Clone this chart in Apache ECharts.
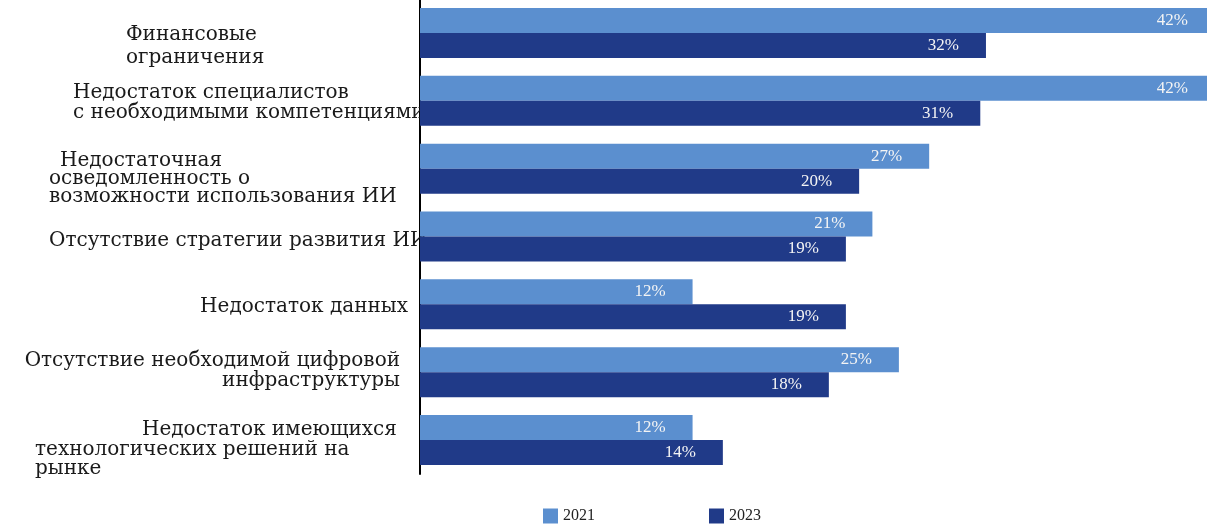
<!DOCTYPE html>
<html>
<head>
<meta charset="utf-8">
<script src="https://cdn.jsdelivr.net/npm/echarts@6/dist/echarts.min.js"></script>
<style>
html,body{margin:0;padding:0;background:#fff;}
#chart{width:1207px;height:524px;}
</style>
</head>
<body>
<div id="chart"></div>
<script>
// ---- data ----
const categories = [
  'Финансовые\nограничения',
  'Недостаток специалистов\nс необходимыми компетенциями',
  'Недостаточная\nосведомленность о\nвозможности использования ИИ',
  'Отсутствие стратегии развития ИИ',
  'Недостаток данных',
  'Отсутствие необходимой цифровой\nинфраструктуры',
  'Недостаток имеющихся\nтехнологических решений на\nрынке'
];
const seriesNames = ['2021', '2023'];
// bar lengths as drawn in the picture (axis units)
const barLen2021 = [42, 42, 26.9, 23.9, 14.4, 25.3, 14.4];
const barLen2023 = [29.9, 29.6, 23.2, 22.5, 22.5, 21.6, 16.0];
// printed label values (%)
const pct2021 = [42, 42, 27, 21, 12, 25, 12];
const pct2023 = [32, 31, 20, 19, 19, 18, 14];

// ---- label layout (styling only) ----
const ANCHOR = 408; // right edge of label block (axis x - margin)
const labelLayout = [
  { dy: 13, lh: 23, lines: [{ left: 126 }, { left: 126 }] },
  { dy: 2.5, lh: 20, lines: [{ left: 73 }, { left: 73 }] },
  { dy: 10.5, lh: 18, lines: [{ left: 60 }, { left: 49 }, { left: 49 }] },
  { dy: 4.5, lh: 20, lines: [{ left: 49 }] },
  { dy: 2, lh: 20, lines: [{ right: 408 }] },
  { dy: -1, lh: 20, lines: [{ right: 400 }, { right: 400 }] },
  { dy: 9.5, lh: 19.5, lines: [{ left: 142 }, { left: 35 }, { left: 35 }] }
];

const catFont = 'DejaVu Serif';
const rich = {};
labelLayout.forEach((lay, i) => {
  const lefts = lay.lines.filter(l => l.left != null).map(l => l.left);
  const minLeft = lefts.length ? Math.min.apply(null, lefts) : 0;
  lay.lines.forEach((ln, j) => {
    const st = { fontFamily: catFont, fontSize: 20, color: '#1a1a1a', lineHeight: lay.lh };
    if (ln.left != null) {
      st.align = 'left';
      st.width = ANCHOR - ln.left;
      st.padding = [0, 0, 0, ln.left - minLeft];
    } else {
      st.align = 'right';
      st.padding = [0, ANCHOR - ln.right, 0, 0];
    }
    rich['c' + i + 'l' + j] = st;
  });
  const sp = Math.abs(lay.dy) * 2;
  rich['s' + i] = { fontSize: 2, lineHeight: sp > 0 ? sp : 1 };
});

function fmtCategory(value, index) {
  const lay = labelLayout[index];
  let lines = value.split('\n').map((ln, j) => '{c' + index + 'l' + j + '|' + ln + '}');
  if (lay.dy > 0) lines = ['{s' + index + '| }'].concat(lines);
  else if (lay.dy < 0) lines = lines.concat(['{s' + index + '| }']);
  return lines.join('\n');
}

const colors = ['#5B8FCF', '#203A88'];
const labelStyle = { show: true, position: 'insideRight', distance: 27, color: '#f4f4f4', fontFamily: 'Liberation Serif', fontSize: 17 };

const chart = echarts.init(document.getElementById('chart'), null, { renderer: 'canvas' });
chart.setOption({
  animation: false,
  backgroundColor: '#ffffff',
  color: colors,
  grid: { left: 420, right: -8, top: -1, bottom: 50, outerBoundsMode: 'none' },
  legend: {
    data: seriesNames,
    left: 538, top: 503,
    itemWidth: 15, itemHeight: 15, itemGap: 114,
    icon: 'rect',
    textStyle: { fontFamily: 'Liberation Serif', fontSize: 16, color: '#222' }
  },
  xAxis: { type: 'value', min: 0, max: 42, show: false },
  yAxis: {
    type: 'category',
    inverse: true,
    data: categories,
    axisLine: { show: true, lineStyle: { color: '#000', width: 2 } },
    axisTick: { show: false },
    splitLine: { show: false },
    axisLabel: {
      interval: 0,
      margin: 12,
      align: 'right',
      verticalAlign: 'middle',
      color: '#1a1a1a',
      fontFamily: catFont,
      fontSize: 20,
      formatter: fmtCategory,
      rich: rich
    }
  },
  series: [
    {
      name: seriesNames[0], type: 'bar', data: barLen2021, barWidth: 25, barGap: '0%',
      label: Object.assign({}, labelStyle, { formatter: p => pct2021[p.dataIndex] + '%' })
    },
    {
      name: seriesNames[1], type: 'bar', data: barLen2023, barWidth: 25, barGap: '0%',
      label: Object.assign({}, labelStyle, { formatter: p => pct2023[p.dataIndex] + '%' })
    }
  ]
});
</script>
</body>
</html>
